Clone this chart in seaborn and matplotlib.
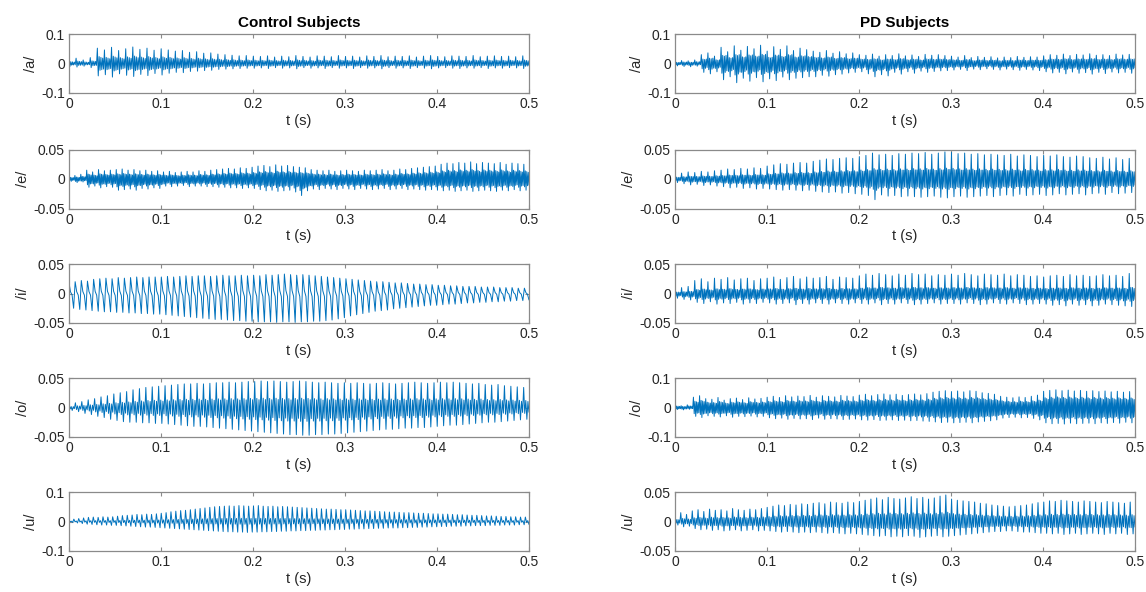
import numpy as np
import matplotlib
matplotlib.use("Agg")
import matplotlib.pyplot as plt
import seaborn as sns

# peak / trough of each glottal cycle (units of 1e-3)
ctrl_a_hi = [14, 18, 12, 20,
             52, 46, 55, 44, 50, 56, 48, 52, 45, 50,
             46, 42, 44, 38, 40, 35, 36,
             32, 30, 28, 26, 27, 25,
             24, 26, 22, 25, 23, 27, 24, 22, 26, 25, 23, 27, 24, 25, 22, 26, 24, 27, 23,
             25, 24, 26, 22, 25, 27, 24, 23, 26, 25, 24, 27, 23, 25, 26, 24, 25, 23, 26]
ctrl_a_lo = [-10, -12, -9, -14,
             -42, -38, -46, -35, -40, -44, -37, -41, -34, -39,
             -33, -30, -31, -27, -26, -24, -23,
             -20, -19, -18, -17, -16, -16,
             -15, -17, -14, -16, -15, -18, -14, -16, -15, -17, -14, -16, -15, -17, -14, -16,
             -15, -18, -14, -16, -15, -17, -14, -16, -18, -15, -14, -16, -17, -15, -16, -14,
             -17, -15, -16, -14, -15, -17]

ctrl_e_hi = [5, 6, 8,
             15, 12, 16, 14, 15,
             16, 17, 15, 16, 14, 15, 13, 14,
             12, 13, 11, 12, 13, 12, 14, 13,
             15, 16, 17, 18, 17, 19, 18, 20,
             22, 23, 21, 24, 22, 23, 21, 20, 19,
             16, 15, 14, 15, 13, 14, 15, 14, 13, 15, 14, 15, 16, 14, 15, 17, 16, 18, 19, 20, 21, 22,
             25, 27, 26, 28, 27, 29, 26, 28, 27, 26, 28, 25, 27, 26, 25]
ctrl_e_lo = [-4, -6, -5,
             -14, -12, -15, -13, -14,
             -19, -18, -17, -19, -16, -17, -15, -16,
             -12, -13, -12, -11, -13, -12, -12, -13,
             -13, -14, -14, -15, -15, -16, -15, -16,
             -18, -20, -19, -21, -20, -19, -22, -28, -20,
             -17, -18, -16, -17, -18, -16, -17, -18, -16, -17, -18, -17, -16, -18, -17, -16,
             -18, -17, -18, -19, -18, -19,
             -20, -19, -21, -20, -19, -21, -20, -19, -20, -21, -19, -20, -18, -20, -19]

ctrl_i_hi = [18, 20, 22, 21, 24, 25, 26, 25, 27, 26, 27, 28, 27, 28, 28,
             28, 29, 28, 29, 30, 29, 30, 30, 29, 30, 31, 30, 30, 31, 30,
             31, 30, 32, 31, 32, 33, 32, 31, 32, 31, 30, 29, 28, 27, 26,
             25, 24, 23, 22, 21, 20, 20, 19, 18, 18, 17, 16, 16, 15, 15,
             14, 14, 13, 13, 12, 12, 12, 11, 11, 11, 10, 10, 10, 9, 9]
ctrl_i_lo = [-25, -27, -28, -29, -30, -31, -31, -32, -32, -33, -33, -34, -34, -35, -35,
             -36, -37, -38, -39, -40, -41, -42, -43, -44, -44, -45, -46, -46, -47, -47,
             -48, -48, -48, -49, -48, -48, -49, -48, -48, -47, -47, -46, -45, -43, -41,
             -38, -36, -34, -32, -30, -29, -28, -26, -25, -24, -23, -22, -21, -20, -20,
             -19, -18, -18, -17, -16, -16, -15, -15, -14, -14, -13, -13, -12, -12, -11]

ctrl_o_hi = [5, 8, 10, 13, 15,
             18, 20, 23, 25, 27,
             30, 32, 34, 35, 36,
             37, 38, 39, 40, 40, 41, 40,
             41, 42, 42, 43, 42, 43, 44,
             44, 45, 44, 45, 44, 43, 44, 45, 44, 43, 42, 43, 42, 41, 42,
             41, 42, 41, 40, 41, 42, 41, 40, 41, 42, 43, 42, 41, 42,
             43, 42, 43, 42, 41, 40, 41, 39, 38, 39, 37, 36, 35, 34]
ctrl_o_lo = [-5, -7, -10, -12, -15,
             -17, -20, -22, -24, -25,
             -25, -26, -26, -27, -27,
             -28, -29, -30, -31, -32, -32, -33,
             -34, -35, -36, -37, -38, -39, -40,
             -41, -42, -43, -44, -45, -46, -46, -47, -47, -46, -46, -45, -45, -44, -43,
             -42, -41, -40, -39, -38, -37, -37, -36, -35, -35, -34, -34, -33, -32,
             -31, -30, -30, -29, -28, -27, -26, -25, -25, -24, -23, -22, -21, -20]

ctrl_u_hi = [5, 8, 10, 12, 14, 15, 14, 16, 15, 16,
             18, 20, 21, 22, 24, 23, 25, 24, 26,
             28, 30, 33, 35, 37, 38, 40, 42, 44, 46,
             48, 50, 51, 52, 53, 52, 54, 53, 52, 53, 54, 52, 51, 52, 50, 51, 50, 49, 48,
             47, 46, 45, 44, 43, 42, 42, 41, 40, 40, 39, 38, 37, 36, 36, 35, 34, 33, 32,
             32, 31, 30, 30, 29, 28, 28, 27, 26, 26, 25, 25, 24, 23, 23, 22, 21, 21, 20,
             19, 19, 18, 17, 17, 16, 16, 15, 15]
ctrl_u_lo = [-3, -5, -7, -9, -10, -11, -12, -12, -13, -13,
             -14, -15, -16, -17, -18, -19, -19, -20, -21,
             -22, -23, -24, -25, -26, -27, -28, -29, -30, -31,
             -32, -33, -34, -35, -35, -36, -36, -37, -36, -36, -35, -35, -34, -34, -33, -33,
             -32, -32, -31,
             -31, -30, -30, -29, -29, -28, -28, -27, -27, -26, -26, -25, -25, -24, -24, -23,
             -23, -22, -22,
             -22, -21, -21, -20, -20, -19, -19, -18, -18, -17, -17, -16, -16, -16, -15, -15,
             -14, -14, -14, -13, -13, -13, -12, -12, -12, -11, -11, -10]

pd_a_hi = [8, 10, 9, 12,
           30, 36, 25,
           55, 40, 60, 45, 58, 50, 62, 42, 57, 48, 60, 44, 52, 47,
           42, 38, 44, 35, 40, 33, 36,
           30, 28, 32, 25, 30, 27, 33, 26, 29, 24, 31, 28, 30, 27,
           25, 22, 27, 20, 24, 21, 23, 19, 22, 20, 24, 21, 23, 22,
           26, 30, 28, 32, 27, 31, 29, 33, 28, 30, 27, 32, 29, 31]
pd_a_lo = [-8, -10, -11, -9,
           -30, -35, -28,
           -55, -45, -65, -50, -60, -48, -62, -52, -58, -46, -55, -50, -48, -45,
           -45, -40, -43, -38, -36, -32, -30,
           -28, -35, -45, -38, -42, -30, -36, -28, -33, -26, -30, -27, -25, -24,
           -22, -20, -24, -19, -21, -18, -20, -22, -19, -21, -23, -20, -22, -24,
           -28, -32, -30, -35, -29, -33, -31, -36, -30, -34, -29, -32, -30, -33]

pd_e_hi = [8, 10, 12, 11, 13, 12, 14,
           15, 17, 16, 18, 17, 19, 18,
           22, 24, 26, 25, 27, 28, 27,
           30, 32, 34, 33, 35, 36, 35,
           38, 40, 44, 41, 42, 40, 43,
           42, 44, 43, 45, 42, 44, 46, 45, 43, 44, 42, 43, 41, 42,
           41, 40, 42, 39, 41, 40, 38, 40, 39, 41, 38, 37, 39, 38,
           36, 35, 37, 34, 36, 33, 35]
pd_e_lo = [-6, -8, -10, -9, -11, -10, -12,
           -13, -15, -14, -16, -15, -17, -16,
           -17, -18, -19, -18, -19, -20, -19,
           -21, -22, -23, -22, -24, -23, -25,
           -26, -28, -35, -27, -29, -28, -30,
           -29, -30, -31, -30, -29, -31, -32, -30, -29, -31, -30, -29, -28, -30,
           -28, -27, -29, -26, -28, -27, -26, -28, -27, -25, -27, -26, -25, -27,
           -25, -24, -26, -23, -25, -24, -23]

pd_i_hi = [8, 10, 12,
           22, 25, 20, 26, 24, 27, 23, 25, 26, 22, 25,
           26, 28, 24, 27, 29, 25, 28, 26, 27, 29, 24, 28, 27, 26,
           30, 33, 31, 34, 32, 30, 33, 31, 34, 32, 33, 30, 32, 31,
           33, 31, 34, 32, 30, 33, 32, 31, 33, 30, 32, 31, 29, 30,
           28, 30, 31, 29, 32, 30, 31, 29, 30, 32, 30, 31, 29, 34]
pd_i_lo = [-8, -10, -11,
           -15, -17, -14, -18, -16, -17, -15, -18, -16, -17, -15,
           -16, -18, -17, -16, -19, -17, -18, -16, -17, -18, -16, -17, -18, -16,
           -17, -18, -16, -19, -17, -18, -16, -17, -19, -18, -17, -16, -18, -17,
           -17, -18, -16, -17, -19, -18, -16, -17, -18, -16, -17, -19, -18, -17,
           -18, -20, -19, -21, -18, -20, -19, -21, -20, -18, -19, -20, -21, -22]

pd_o_hi = [8, 6, 9,
           35, 40, 30,
           28, 34, 25, 30, 32, 27, 33, 29, 31,
           35, 38, 34, 40, 36, 39, 37, 41, 35, 40, 38, 36, 41, 39, 37,
           42, 45, 40, 44, 46, 43, 45, 41, 44, 46, 43, 47,
           52, 55, 57, 54, 56, 53, 57, 55, 50, 48, 45,
           38, 35, 33, 36, 34, 38, 42,
           55, 58, 60, 57, 59, 56, 58, 55, 57, 54, 56, 53, 55, 52, 54]
pd_o_lo = [-7, -8, -6,
           -30, -34, -28,
           -30, -32, -28, -33, -30, -31, -29, -32, -30,
           -35, -38, -36, -40, -37, -39, -38, -41, -36, -40, -38, -39, -41, -40, -39,
           -42, -43, -41, -44, -43, -42, -44, -43, -45, -44, -46, -47,
           -49, -51, -50, -52, -51, -50, -52, -49, -47, -45, -42,
           -36, -34, -33, -35, -34, -37, -42,
           -52, -55, -54, -56, -53, -55, -54, -53, -55, -52, -54, -51, -53, -50, -52]

pd_u_hi = [10, 15, 12,
           18, 20, 17, 21, 19, 20, 18, 22, 20, 19, 21, 20, 22,
           24, 26, 28, 27, 29, 28, 30, 29,
           31, 32, 30, 33, 32, 31, 33, 32,
           34, 36, 38, 40, 37, 41, 39, 38, 40, 42, 39, 41, 38, 40, 43, 45,
           38, 36, 35, 34, 33, 31, 30, 28, 27, 26, 25, 26, 27, 28, 30, 32,
           33, 35, 34, 36, 35, 34, 33, 35, 34, 33, 32, 34, 33, 32, 31, 33]
pd_u_lo = [-6, -9, -8,
           -12, -14, -13, -15, -14, -16, -15, -14, -16, -15, -14, -16, -15,
           -16, -17, -18, -17, -18, -19, -18, -19,
           -18, -19, -20, -19, -20, -21, -20, -21,
           -22, -23, -24, -25, -24, -26, -25, -26, -24, -25, -27, -26, -25, -24, -26, -25,
           -24, -23, -22, -21, -20, -19, -18, -17, -17, -16, -16, -17, -18, -18, -19, -20,
           -20, -21, -20, -22, -21, -20, -22, -21, -20, -21, -22, -20, -21, -20, -22, -21]

# shape of one period for each vowel
# (positive entries are fractions of the cycle peak, negative of the trough)
ctrl_shapes = [[1.0, -1.0, 0.45, -0.55, 0.4, -0.5, 0.35, -0.45],
               [1.0, -0.7, 0.55, -1.0, 0.5, -0.6, 0.45, -0.55],
               [1.0, 0.15, -0.1, -1.0],
               [1.0, -0.5, 0.35, -1.0, 0.3, -0.4],
               [1.0, -0.25, 0.2, -1.0]]
pd_shapes = [[1.0, -0.6, 0.5, -1.0, 0.45, -0.55, 0.5, -0.45],
             [1.0, -0.5, 0.4, -1.0, 0.35, -0.55, 0.35, -0.45],
             [1.0, -0.6, 0.3, -1.0, 0.3, -0.55, 0.25, -0.45],
             [1.0, -0.7, 0.6, -1.0, 0.55, -0.65, 0.5, -0.6],
             [1.0, -0.5, 0.35, -1.0, 0.3, -0.45]]

vowels = ["/a/", "/e/", "/i/", "/o/", "/u/"]
ctrl_hi = [ctrl_a_hi, ctrl_e_hi, ctrl_i_hi, ctrl_o_hi, ctrl_u_hi]
ctrl_lo = [ctrl_a_lo, ctrl_e_lo, ctrl_i_lo, ctrl_o_lo, ctrl_u_lo]
pd_hi = [pd_a_hi, pd_e_hi, pd_i_hi, pd_o_hi, pd_u_hi]
pd_lo = [pd_a_lo, pd_e_lo, pd_i_lo, pd_o_lo, pd_u_lo]
ctrl_lim = [0.1, 0.05, 0.05, 0.05, 0.1]
pd_lim = [0.1, 0.05, 0.05, 0.1, 0.05]
x_ticks = [0, 0.1, 0.2, 0.3, 0.4, 0.5]
x_ticklabels = ["0", "0.1", "0.2", "0.3", "0.4", "0.5"]

sns.set_style("ticks")
plt.rcParams["font.family"] = ["Liberation Sans", "DejaVu Sans"]
plt.rcParams["xtick.direction"] = "in"
plt.rcParams["ytick.direction"] = "in"

LINE = "#0072BD"
EDGE = "#8a8a8a"
TXT = "#262626"


def draw(ax, hi, lo, shape, lim, vowel):
    assert len(hi) == len(lo)
    hi = np.asarray(hi)[:, None] * 1e-3
    lo = np.asarray(lo)[:, None] * 1e-3
    sh = np.asarray(shape)[None, :]
    y = np.where(sh > 0, sh * hi, -sh * lo).ravel()
    t = np.linspace(0, 0.5, len(y))
    sns.lineplot(x=t, y=y, ax=ax, color=LINE, linewidth=0.7, estimator=None)
    ax.set_xlim(0, 0.5)
    ax.set_ylim(-lim, lim)
    ax.set_xticks(x_ticks)
    ax.set_xticklabels(x_ticklabels)
    ax.set_yticks([-lim, 0, lim])
    ax.set_yticklabels([f"{-lim:g}", "0", f"{lim:g}"])
    ax.tick_params(axis="both", labelsize=10, colors=EDGE, labelcolor=TXT,
                   length=3, width=0.8, top=True, right=True, pad=3)
    for s in ax.spines.values():
        s.set_color(EDGE)
        s.set_linewidth(0.9)
    ax.set_xlabel("t (s)", fontsize=10.5, color=TXT, labelpad=2)
    ax.set_ylabel(vowel, fontsize=10.5, color=TXT, labelpad=2)


fig = plt.figure(figsize=(11.46, 5.92), dpi=100)
W, H = 1146, 592
tops = [34, 149.5, 264, 378, 492]
h = 59
for r in range(5):
    b = 1 - (tops[r] + h) / H
    axl = fig.add_axes([69 / W, b, 460 / W, h / H])
    draw(axl, ctrl_hi[r], ctrl_lo[r], ctrl_shapes[r], ctrl_lim[r], vowels[r])
    axr = fig.add_axes([675 / W, b, 460 / W, h / H])
    draw(axr, pd_hi[r], pd_lo[r], pd_shapes[r], pd_lim[r], vowels[r])
    if r == 0:
        axl.set_title("Control Subjects", fontsize=11, fontweight="bold", color="black", pad=5)
        axr.set_title("PD Subjects", fontsize=11, fontweight="bold", color="black", pad=5)

fig.savefig("out.png", dpi=100)
